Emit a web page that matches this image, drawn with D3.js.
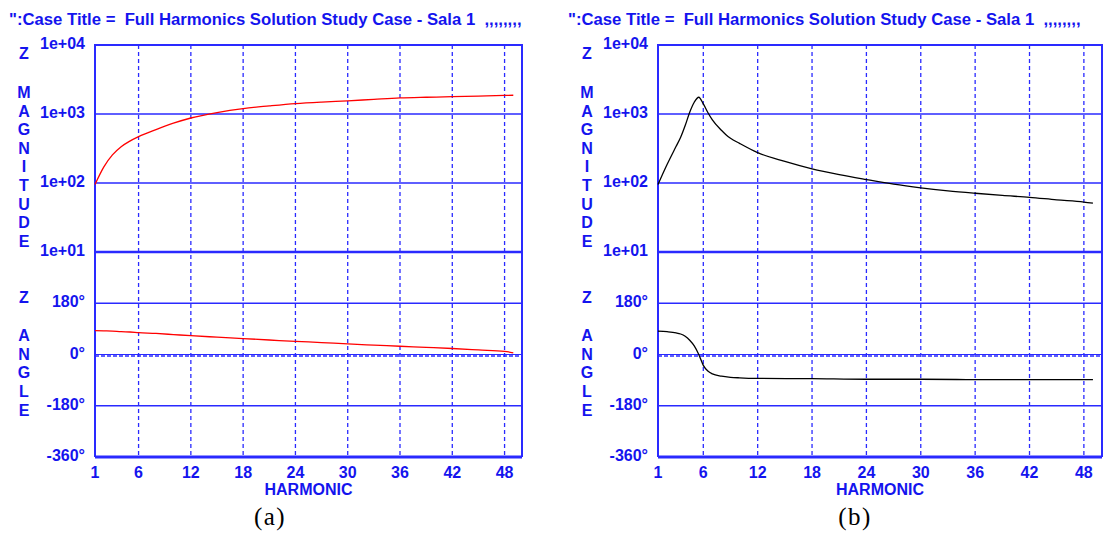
<!DOCTYPE html>
<html lang="en">
<head>
<meta charset="UTF-8">
<title>Harmonic impedance</title>
<script src="https://d3js.org/d3.v7.min.js"></script>
<style>
  body { margin: 0; background: #ffffff; }
  text { font-family: "Liberation Sans", Arial, sans-serif; font-weight: bold; fill: #1414ee; }
  .cap { font-family: "Liberation Serif", "Times New Roman", serif; font-weight: normal; fill: #000; }
</style>
</head>
<body>
<svg id="chart" width="1107" height="534"></svg>
<script>
// tick values and labels
const harmonicTicks = [1, 6, 12, 18, 24, 30, 36, 42, 48];
const magTicks = [1e4, 1e3, 1e2, 1e1];
const magTickLabels = ["1e+04", "1e+03", "1e+02", "1e+01"];
const angleTicks = [180, 0, -180, -360];
const angleTickLabels = ["180\u00b0", "0\u00b0", "-180\u00b0", "-360\u00b0"];
const titleText = "\":Case Title =  Full Harmonics Solution Study Case - Sala 1  ,,,,,,,,";

// panel (a) - red
const harmA = [1, 2, 3, 4, 5, 6, 8, 10, 12, 15, 18, 21, 24, 27, 30, 33, 36, 39, 42, 45, 48, 49];
const magA = [95, 170, 255, 335, 405, 470, 595, 735, 875, 1050, 1200, 1310, 1415, 1490, 1550, 1630, 1710, 1750, 1780, 1820, 1860, 1870];
const angA = [84, 83, 82, 80, 79, 77, 74, 70, 66, 61, 56, 51, 46, 42, 37, 33, 29, 25, 21, 16, 11, 6];

// panel (b) - black
const harmB = [1, 2, 3, 3.5, 4, 4.5, 5, 5.5, 6, 6.5, 7, 8, 8.5, 9, 10, 12, 15, 18, 21, 24, 27, 30, 33, 36, 39, 42, 45, 48, 49];
const magB = [95, 185, 340, 460, 680, 1060, 1480, 1750, 1400, 1050, 820, 580, 500, 445, 375, 275, 205, 160, 132, 112, 96, 85, 77, 71, 66, 62, 57, 53, 51];
const harmBAng = [1, 2, 3, 3.5, 4, 4.5, 5, 5.5, 6, 6.5, 7, 8, 9, 10, 12, 18, 24, 30, 36, 42, 49];
const angB = [82, 80, 76, 72, 64, 50, 30, 0, -38, -58, -68, -76, -80, -82, -84, -85, -87, -87, -88, -88, -88];

const svg = d3.select("#chart");
const blue = "#2a2aff";
const plotTop = 45, plotMid = 252, plotBottom = 457;

function drawPanel(left, right, titleX, caption, captionX, hm, mag, ha, ang, color) {
    const g = svg.append("g");
    const x = d3.scaleLinear().domain([1, 50]).range([left, right]);
    const yMag = d3.scaleLog().domain([10, 10000]).range([plotMid, plotTop]);
    const yAng = d3.scaleLinear().domain([-360, 360]).range([plotBottom, plotMid]);

    // title
    g.append("text").attr("x", titleX).attr("y", 25)
        .style("white-space", "pre").style("font-size", "16.7px")
        .text(titleText);

    // vertical dashed grid
    g.selectAll(".vg").data(harmonicTicks.slice(1)).enter().append("line")
        .attr("x1", d => x(d)).attr("x2", d => x(d))
        .attr("y1", plotTop).attr("y2", plotBottom)
        .attr("stroke", blue).attr("stroke-width", 1.3).attr("stroke-dasharray", "4,3");

    // horizontal grid
    g.selectAll(".hm").data([1e3, 1e2]).enter().append("line")
        .attr("x1", left).attr("x2", right)
        .attr("y1", d => yMag(d)).attr("y2", d => yMag(d))
        .attr("stroke", blue).attr("stroke-width", 1.3);
    g.selectAll(".ha").data([180, -180]).enter().append("line")
        .attr("x1", left).attr("x2", right)
        .attr("y1", d => yAng(d)).attr("y2", d => yAng(d))
        .attr("stroke", blue).attr("stroke-width", 1.3);
    // zero line
    g.append("line").attr("x1", left).attr("x2", right)
        .attr("y1", yAng(0)).attr("y2", yAng(0))
        .attr("stroke", blue).attr("stroke-width", 1);
    g.append("line").attr("x1", left).attr("x2", right)
        .attr("y1", yAng(0) + 1.5).attr("y2", yAng(0) + 1.5)
        .attr("stroke", blue).attr("stroke-width", 1.5).attr("stroke-dasharray", "4,2");
    // separator
    g.append("line").attr("x1", left).attr("x2", right)
        .attr("y1", plotMid).attr("y2", plotMid)
        .attr("stroke", blue).attr("stroke-width", 2.5);

    // frame
    g.append("path")
        .attr("d", `M${left},${plotBottom}V${plotTop}H${right}V${plotBottom}`)
        .attr("fill", "none").attr("stroke", blue).attr("stroke-width", 2);
    g.append("line").attr("x1", left).attr("x2", right)
        .attr("y1", plotBottom).attr("y2", plotBottom)
        .attr("stroke", blue).attr("stroke-width", 3);

    // curves
    g.append("path").datum(d3.zip(hm, mag))
        .attr("d", d3.line().x(d => x(d[0])).y(d => yMag(d[1])).curve(d3.curveMonotoneX))
        .attr("fill", "none").attr("stroke", color).attr("stroke-width", 1.3);
    g.append("path").datum(d3.zip(ha, ang))
        .attr("d", d3.line().x(d => x(d[0])).y(d => yAng(d[1])).curve(d3.curveMonotoneX))
        .attr("fill", "none").attr("stroke", color).attr("stroke-width", 1.3);

    // y tick labels
    g.selectAll(".ml").data(magTicks).enter().append("text")
        .attr("x", left - 10).attr("y", d => yMag(d))
        .attr("text-anchor", "end").attr("dominant-baseline", "middle")
        .style("font-size", "16px")
        .text((d, i) => magTickLabels[i]);
    g.selectAll(".al").data(angleTicks).enter().append("text")
        .attr("x", left - 10).attr("y", d => yAng(d))
        .attr("text-anchor", "end").attr("dominant-baseline", "middle")
        .style("font-size", "16px")
        .text((d, i) => angleTickLabels[i]);

    // x tick labels
    g.selectAll(".xl").data(harmonicTicks).enter().append("text")
        .attr("x", d => x(d)).attr("y", 478)
        .attr("text-anchor", "middle").style("font-size", "16px")
        .text(d => d);
    g.append("text").attr("x", (left + right) / 2).attr("y", 495)
        .attr("text-anchor", "middle").style("font-size", "16px")
        .text("HARMONIC");

    // vertical axis words
    const lx = left - 71;
    g.append("text").attr("x", lx).attr("y", 59).attr("text-anchor", "middle")
        .style("font-size", "16px").text("Z");
    g.selectAll(".mw").data("MAGNITUDE".split("")).enter().append("text")
        .attr("x", lx).attr("y", (d, i) => 98 + i * 18.6)
        .attr("text-anchor", "middle").style("font-size", "16px").text(d => d);
    g.append("text").attr("x", lx).attr("y", 303).attr("text-anchor", "middle")
        .style("font-size", "16px").text("Z");
    g.selectAll(".aw").data("ANGLE".split("")).enter().append("text")
        .attr("x", lx).attr("y", (d, i) => 341 + i * 18.7)
        .attr("text-anchor", "middle").style("font-size", "16px").text(d => d);

    // caption
    svg.append("text").attr("class", "cap").attr("x", captionX).attr("y", 525)
        .attr("text-anchor", "middle").style("font-size", "25px")
        .style("letter-spacing", "1.5px").text(caption);
}

drawPanel(95, 522, 9, "(a)", 270, harmA, magA, harmA, angA, "#ff0000");
drawPanel(658, 1102, 568, "(b)", 855, harmB, magB, harmBAng, angB, "#000000");
</script>
</body>
</html>
